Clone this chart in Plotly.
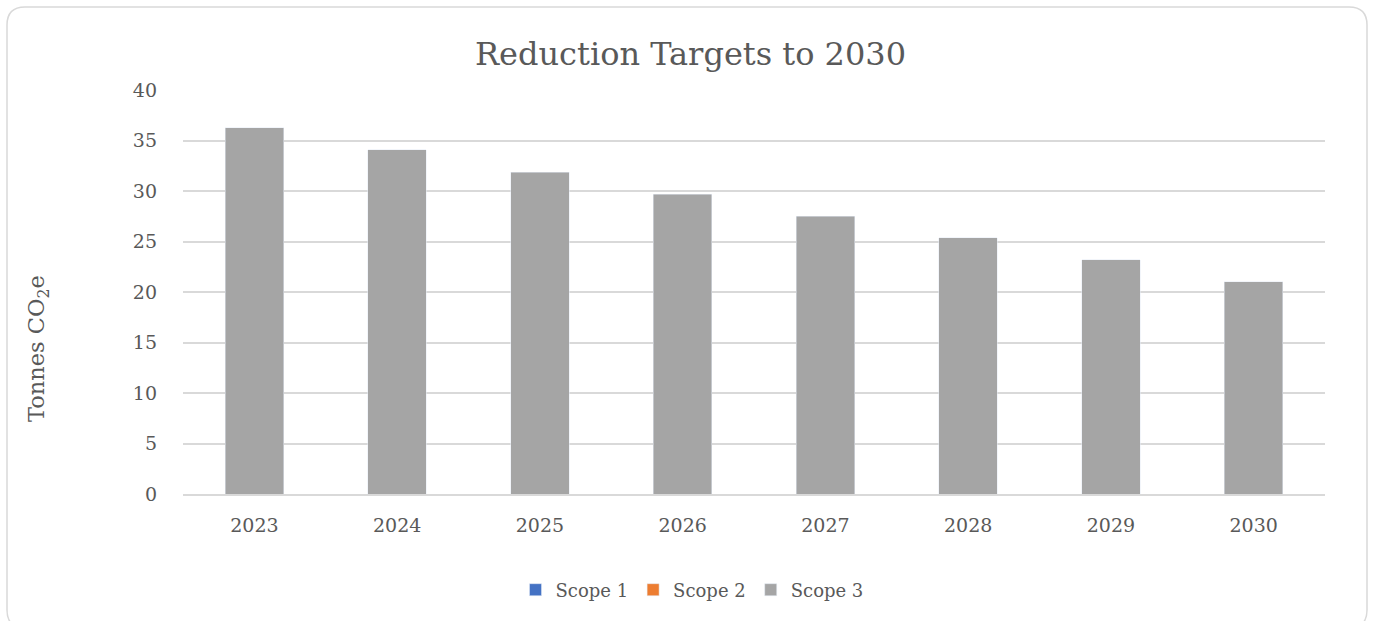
import plotly.graph_objects as go

years = ["2023", "2024", "2025", "2026", "2027", "2028", "2029", "2030"]
scope1 = [0, 0, 0, 0, 0, 0, 0, 0]
scope2 = [0, 0, 0, 0, 0, 0, 0, 0]
scope3 = [36.24, 34.06, 31.88, 29.70, 27.52, 25.35, 23.17, 21.00]

FONT = "DejaVu Serif"
TXT = "#595959"

fig = go.Figure()
fig.add_trace(go.Bar(name="Scope 1", x=years, y=scope1, marker_color="#4472C4"))
fig.add_trace(go.Bar(name="Scope 2", x=years, y=scope2, marker_color="#ED7D31"))
fig.add_trace(go.Bar(name="Scope 3", x=years, y=scope3, marker_color="#A5A5A5"))

L, R, T, B = 183, 1325, 90, 494
W, H = R - L, B - T

def px(x):
    return (x - L) / W

def py(y):
    return (B - y) / H

x0, x1, y0, y1 = px(7), px(1367), py(7), py(628)
rx, ry = 18 / W, 18 / H
path = (f"M {x0+rx},{y0} L {x1-rx},{y0} Q {x1},{y0} {x1},{y0-ry} "
        f"L {x1},{y1+ry} Q {x1},{y1} {x1-rx},{y1} L {x0+rx},{y1} "
        f"Q {x0},{y1} {x0},{y1+ry} L {x0},{y0-ry} Q {x0},{y0} {x0+rx},{y0} Z")

fig.update_layout(
    barmode="stack",
    bargap=0.59,
    width=1374, height=621,
    margin=dict(l=L, r=1374 - R, t=T, b=621 - B),
    paper_bgcolor="white", plot_bgcolor="white",
    font=dict(family=FONT, color=TXT, size=18),
    title=dict(text="Reduction Targets to 2030", x=(478 + 903) / 2 / 1374, xanchor="center",
               y=1 - 54 / 621, yanchor="middle",
               font=dict(family=FONT, size=32, color=TXT)),
    legend=dict(orientation="h", x=px(692), xanchor="center", y=py(590), yanchor="middle",
                font=dict(family=FONT, size=18, color=TXT), itemwidth=30, traceorder="normal"),
    shapes=[dict(type="path", path=path, xref="paper", yref="paper",
                 line=dict(color="#d9d9d9", width=1.5), fillcolor="rgba(0,0,0,0)", layer="below")],
    annotations=[dict(text="Tonnes CO<sub>2</sub>e", textangle=-90, x=px(38), y=py(349),
                      xref="paper", yref="paper", showarrow=False, xanchor="center", yanchor="middle",
                      font=dict(family=FONT, size=22.5, color=TXT))],
)
fig.update_xaxes(showgrid=False, showline=True, linecolor="#d9d9d9", linewidth=1.5,
                 ticks="", ticklabelstandoff=13, tickfont=dict(size=19))
fig.update_yaxes(range=[0, 40], dtick=5, showgrid=True, gridcolor="#d9d9d9", gridwidth=1.5,
                 zeroline=False, showline=False, ticks="", ticklabelstandoff=25,
                 tickfont=dict(size=19))

fig.write_html("out.html", config={"displayModeBar": False},
               post_script="document.body.style.margin='0';document.body.style.overflow='hidden';")
